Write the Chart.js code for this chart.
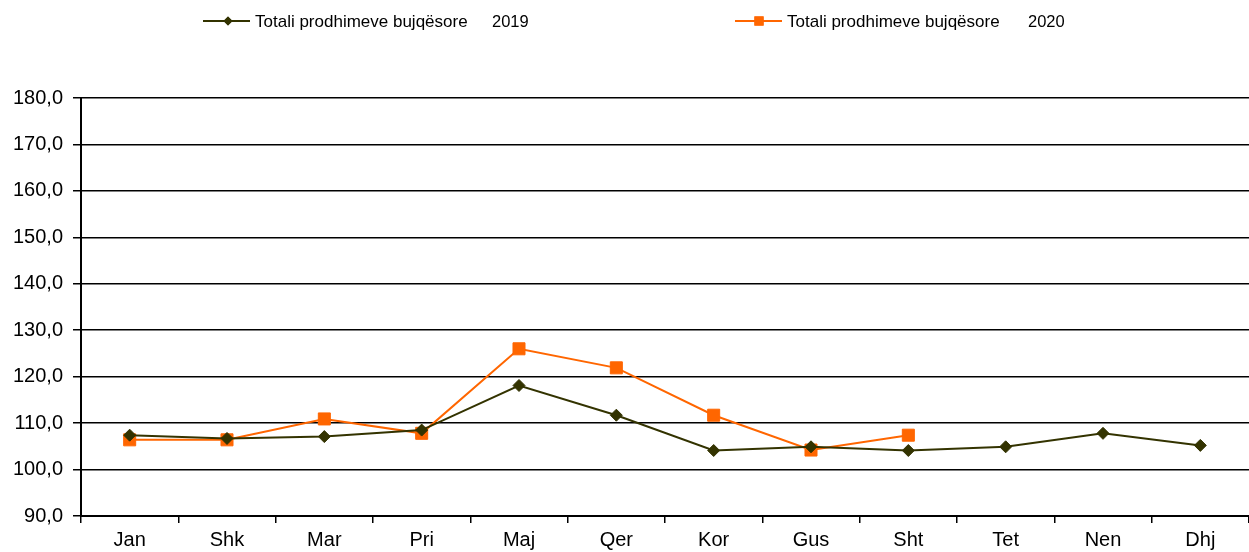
<!DOCTYPE html>
<html>
<head>
<meta charset="utf-8">
<script src="https://cdn.jsdelivr.net/npm/chart.js@4/dist/chart.umd.min.js"></script>
<style>
  body { margin: 0; background: #fff; }
  #wrap { width: 1249px; height: 552px; }
</style>
</head>
<body>
<div id="wrap"><canvas id="myChart" width="1249" height="552"></canvas></div>
<script>
	var months = ['Jan', 'Shk', 'Mar', 'Pri', 'Maj', 'Qer', 'Kor', 'Gus', 'Sht', 'Tet', 'Nen', 'Dhj'];
	var data2019 = [107.4, 106.7, 107.1, 108.5, 118.1, 111.7, 104.1, 104.9, 104.1, 104.9, 107.8, 105.2];
	var data2020 = [106.4, 106.4, 110.9, 107.8, 126.0, 121.9, 111.7, 104.2, 107.4, null, null, null];
	var label2019 = 'Totali prodhimeve bujqësore';
	var label2020 = 'Totali prodhimeve bujqësore';
	var year2019 = '2019';
	var year2020 = '2020';

	var olive = '#333300';
	var orange = '#FF6600';
	var font = 'Arial, "Liberation Sans", sans-serif';

	// legend drawn by hand: line + marker in the middle, text, year
	var topLegend = {
		id : 'topLegend',
		afterDraw : function(chart) {
			var ctx = chart.ctx;
			var items = [
				{ x : 203, mid : 228, text : label2019, yx : 492, year : year2019, color : olive, style : 'rectRot', r : 4.5 },
				{ x : 735, mid : 759, text : label2020, yx : 1028, year : year2020, color : orange, style : 'rect', r : 6.5 }
			];
			var y = 21;
			items.forEach(function(it) {
				ctx.save();
				ctx.strokeStyle = it.color;
				ctx.lineWidth = 2;
				ctx.beginPath();
				ctx.moveTo(it.x, y);
				ctx.lineTo(it.x + 47, y);
				ctx.stroke();
				ctx.fillStyle = it.color;
				Chart.helpers.drawPoint(ctx, { pointStyle : it.style, radius : it.r, borderWidth : 0, rotation : 0 }, it.mid, y);
				ctx.fill();
				ctx.fillStyle = '#000';
				ctx.font = '17px ' + font;
				ctx.textBaseline = 'middle';
				ctx.fillText(it.text, it.x + 52, y + 1);
				ctx.font = '16.5px ' + font;
				ctx.fillText(it.year, it.yx, y + 1);
				ctx.restore();
			});
		}
	};

	const data1 = {
		labels : months,
		datasets : [ {
			label : label2019 + ' ' + year2019,
			data : data2019,
			borderColor : olive,
			backgroundColor : olive,
			borderWidth : 2,
			pointStyle : 'rectRot',
			pointRadius : 6,
			pointHoverRadius : 6,
			pointBorderWidth : 1,
			tension : 0,
		}, {
			label : label2020 + ' ' + year2020,
			data : data2020,
			borderColor : orange,
			backgroundColor : orange,
			borderWidth : 2,
			pointStyle : 'rect',
			pointRadius : 8.5,
			pointHoverRadius : 8.5,
			pointBorderWidth : 1,
			tension : 0,
		} ]
	};

	const config = {
		type : 'line',
		data : data1,
		plugins : [ topLegend ],
		options : {
			responsive : false,
			animation : false,
			devicePixelRatio : 1,
			layout : {
				autoPadding : false,
				padding : { top : 98, right : 0, left : 0, bottom : 0 }
			},
			plugins : {
				legend : { display : false },
				tooltip : { enabled : false },
			},
			scales : {
				y : {
					min : 90,
					max : 180,
					afterFit : function(s) { s.width = 81; },
					ticks : {
						stepSize : 10,
						color : '#000',
						padding : 10,
						font : { family : font, size : 20 },
						callback : function(v) { return v.toFixed(1).replace('.', ','); }
					},
					grid : {
						color : '#000',
						lineWidth : 1.5,
						tickLength : 8,
					},
					border : { color : '#000', width : 2 },
				},
				x : {
					offset : true,
					afterFit : function(s) { s.height = 36; },
					ticks : {
						color : '#000',
						padding : 5,
						font : { family : font, size : 20 },
					},
					grid : {
						offset : true,
						drawOnChartArea : false,
						color : '#000',
						lineWidth : 1.5,
						tickLength : 7,
					},
					border : { color : '#000', width : 2 },
				},
			},
		},
	};

	var myChart = new Chart(document.getElementById('myChart'), config);
</script>
</body>
</html>
